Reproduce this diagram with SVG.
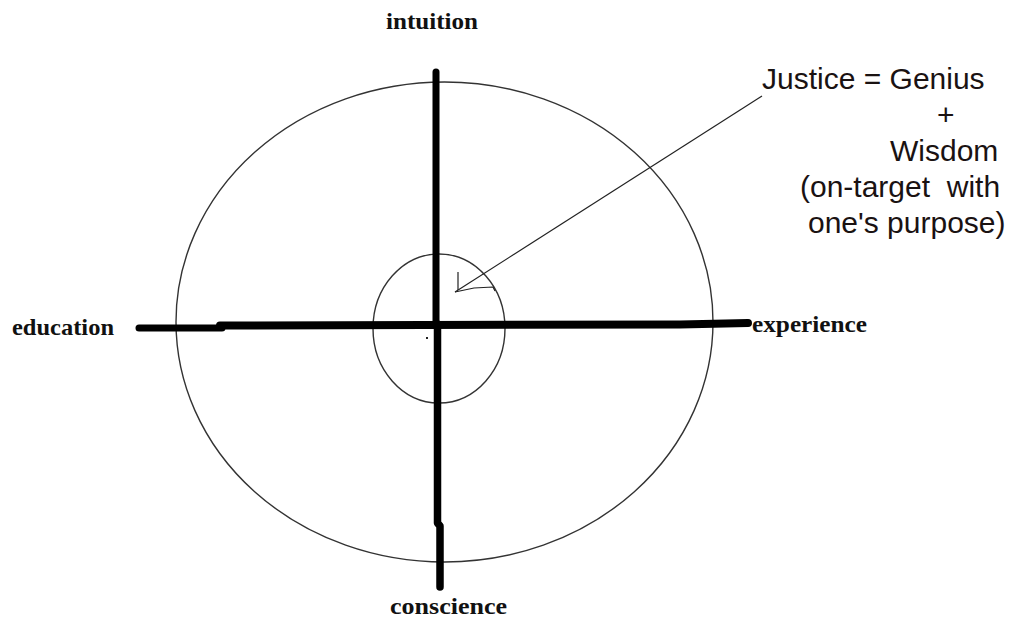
<svg xmlns="http://www.w3.org/2000/svg" width="1019" height="621" viewBox="0 0 1019 621">
<style>
.ring{fill:none;stroke:#333;stroke-width:1.4}
.axis{fill:none;stroke:#000;stroke-linecap:round;stroke-linejoin:round}
.lbl{font-family:"Liberation Serif",serif;font-weight:bold;font-size:24px;fill:#111}
.note{font-family:"Liberation Sans",Arial,sans-serif;font-size:30px;fill:#1a1212}
.ptr{fill:none;stroke:#222;stroke-width:1.2;stroke-linejoin:round}
</style>
<rect width="1019" height="621" fill="#fff"/>
<g id="outer-circle"><ellipse class="ring" cx="444.5" cy="322" rx="268.5" ry="240"/></g>
<g id="inner-circle"><ellipse class="ring" cx="439" cy="328.5" rx="66" ry="74.5"/></g>
<g id="connectors">
<path class="axis" stroke-width="7" d="M436,72 L436,322"/>
<path class="axis" stroke-width="7.5" d="M437.5,324 L437.5,523 L440,526 L440,587"/>
<path class="axis" stroke-width="7" d="M139,328 L222,328"/>
<path class="axis" stroke-width="8" d="M220,325.5 L680,324.5 L748,323"/>
<path class="ptr" d="M762,96 L455,292"/>
<path class="ptr" d="M458,272 L458,290 M455,292 L474,288 L493,287 L495,291"/>
<rect x="426" y="337" width="2" height="2" fill="#222"/>
</g>
<g id="intuition"><text class="lbl" x="386" y="29" textLength="92" lengthAdjust="spacingAndGlyphs">intuition</text></g>
<g id="education"><text class="lbl" x="12" y="335" textLength="102" lengthAdjust="spacingAndGlyphs">education</text></g>
<g id="experience"><text class="lbl" x="752" y="332" textLength="115" lengthAdjust="spacingAndGlyphs">experience</text></g>
<g id="conscience"><text class="lbl" x="390" y="614" textLength="117" lengthAdjust="spacingAndGlyphs">conscience</text></g>
<g id="justice-note">
<text class="note" x="762" y="89">Justice = Genius</text>
<text class="note" x="937" y="125">+</text>
<text class="note" x="890" y="161">Wisdom</text>
<text class="note" x="800" y="197" xml:space="preserve">(on-target  with</text>
<text class="note" x="808" y="233">one's purpose)</text>
</g>
</svg>
